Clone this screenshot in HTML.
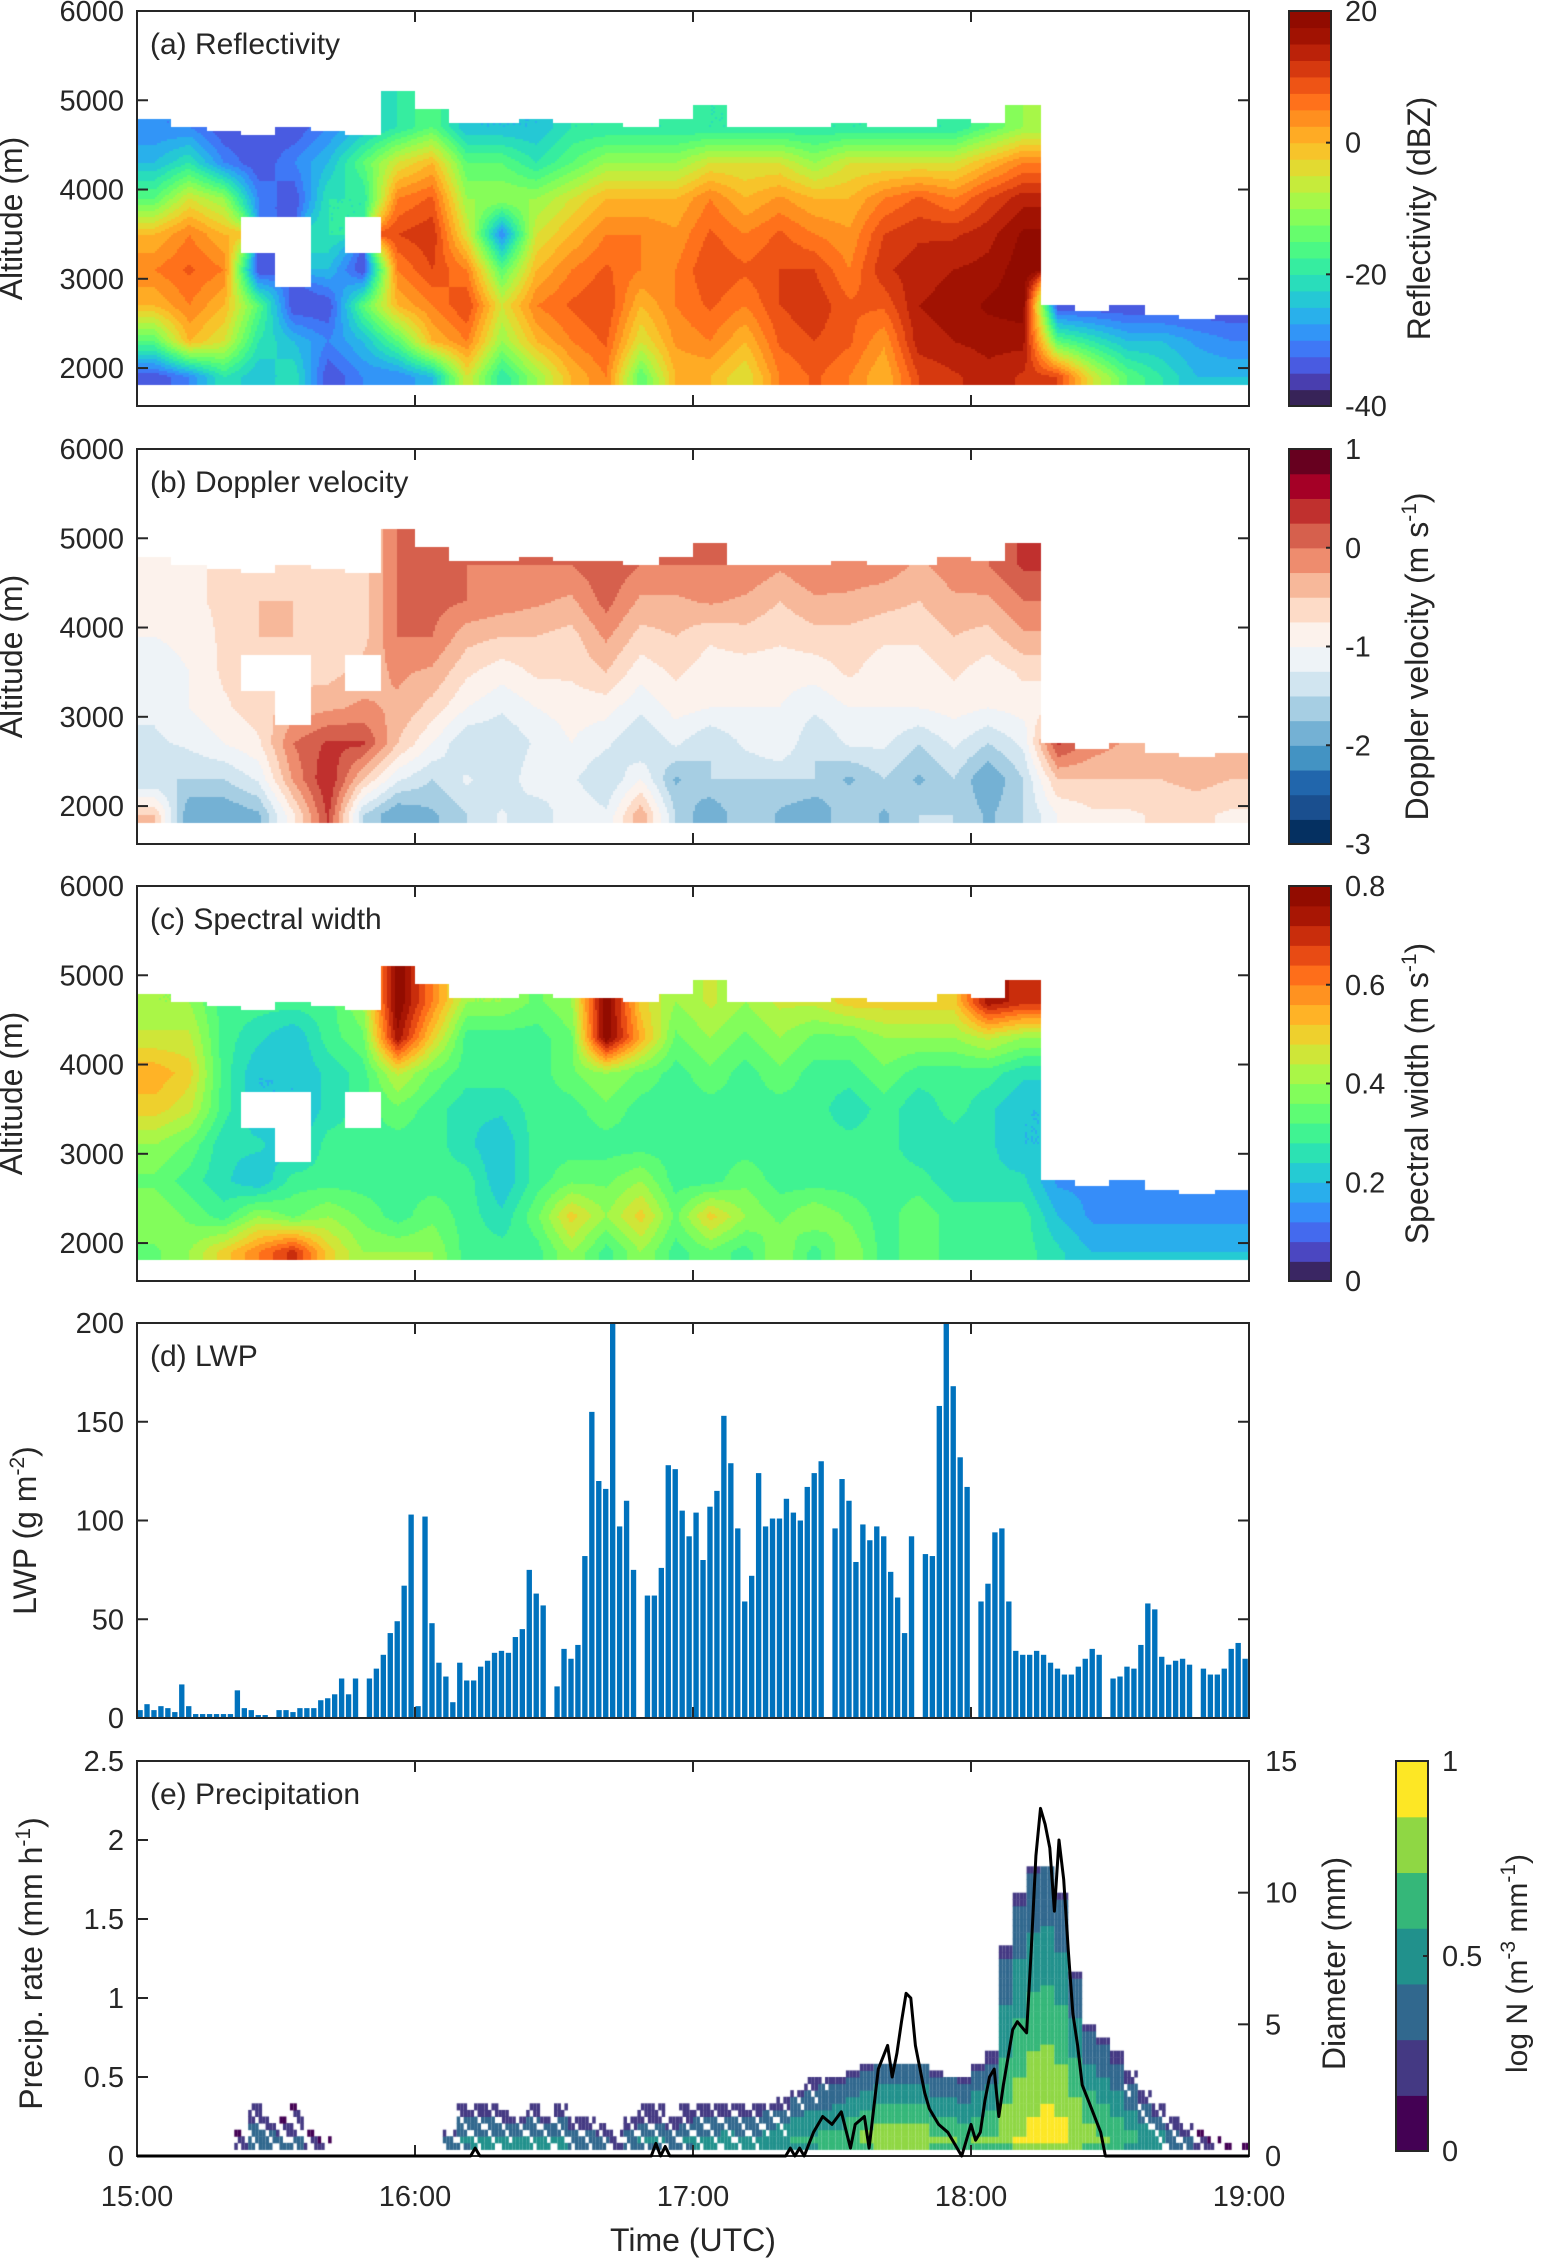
<!DOCTYPE html>
<html><head><meta charset="utf-8">
<style>
html,body{margin:0;padding:0;background:#fff;}
#wrap{position:relative;width:1549px;height:2263px;overflow:hidden;}
canvas{position:absolute;left:0;top:0;}
svg{position:absolute;left:0;top:0;}
text{font-family:"Liberation Sans",Arial,sans-serif;fill:#262626;}
</style></head>
<body>
<div id="wrap">
<canvas id="cv" width="1549" height="2263"></canvas>
<svg id="sv" width="1549" height="2263" xmlns="http://www.w3.org/2000/svg"></svg>
</div>
<script>
// ---------- DATA ----------
const altRows = [1900,2300,2700,3100,3500,3900,4300,4700];
const cloudTops = [4800,4700,4650,4600,4700,4650,4600,5100,4900,4750,4750,4800,4750,4750,4700,4800,4950,4700,4700,4700,4750,4700,4700,4800,4750,4950,2700,2650,2700,2600,2550,2600];
const N = null;
const reflGrid = [
[-35,-15,0,5,0,-15,-25,-30],[-30,0,5,8,5,-5,-20,-30],[-20,-5,0,5,0,-10,-30,-35],[-25,-20,-15,-35,N,-30,-35,-35],
[-20,-25,-35,N,N,-35,-30,-35],[-35,-30,-35,-25,-20,-20,-25,-30],[-30,-25,-15,-35,N,-20,-15,-25],[-30,-15,0,5,10,5,-5,-20],
[-25,0,5,10,12,8,0,-15],[-5,5,10,5,-5,-10,-15,-25],[-20,-10,-5,-15,-30,-10,-15,-25],[-10,0,5,0,-5,-10,-20,-25],
[0,5,8,5,0,-5,-15,-20],[5,8,10,8,5,0,-10,-20],[-15,-5,0,5,5,0,-10,-20],[0,3,5,5,3,0,-10,-20],
[0,5,8,10,8,5,-5,-20],[-5,0,5,8,5,0,-5,-20],[5,8,10,10,8,3,-5,-20],[8,10,12,10,5,0,-10,-20],
[5,8,8,5,3,0,-5,-20],[0,3,8,12,10,5,-5,-20],[10,14,15,14,12,8,-5,-20],[12,15,16,15,12,5,-5,-20],
[14,16,18,16,14,10,0,-15],[12,16,19,19,18,14,5,-10],[10,-15,-35,N,N,N,N,N],[-5,-20,-35,N,N,N,N,N],
[-15,-25,-35,N,N,N,N,N],[-20,-25,-35,N,N,N,N,N],[-25,-28,-35,N,N,N,N,N],[-25,-30,-35,N,N,N,N,N]];
const velGrid = [
[-0.5,-1.5,-1.3,-1.2,-1.2,-1.0,-1.0,-0.9],[-2.0,-1.5,-1.2,-1.0,-1.0,-0.9,-0.8,-0.8],[-2.0,-1.5,-1.0,-0.8,-0.7,-0.7,-0.7,-0.7],[-1.8,-1.2,-0.8,-0.6,-0.6,-0.5,-0.5,-0.6],
[-0.8,-0.2,0,-0.4,-0.6,-0.5,-0.5,-0.6],[0.3,0.5,0.3,-0.3,-0.6,-0.6,-0.6,-0.6],[-1.5,-0.5,0.3,-0.2,-0.4,-0.6,-0.6,-0.6],[-2.0,-1.2,-0.5,-0.3,-0.2,0,0,0],
[-1.8,-1.5,-1.0,-0.6,-0.3,0,0.1,0.1],[-1.5,-1.2,-1.5,-1.0,-0.7,-0.4,0,0],[-1.2,-1.5,-1.5,-1.2,-0.9,-0.5,-0.1,0],[-1.5,-1.0,-1.2,-1.0,-0.7,-0.5,-0.2,0],
[-1.0,-1.2,-1.0,-0.9,-0.7,-0.6,-0.3,0],[-1.2,-1.5,-1.2,-0.9,-0.5,-0.2,0.1,0.2],[-0.3,-1.0,-1.5,-1.2,-0.9,-0.6,-0.3,0],[-1.5,-1.8,-1.2,-0.9,-0.7,-0.5,-0.3,0],
[-2.0,-1.5,-1.5,-1.0,-0.9,-0.7,-0.2,0],[-1.5,-1.5,-1.2,-1.0,-0.9,-0.6,-0.3,0],[-1.8,-1.5,-1.0,-1.0,-0.9,-0.7,-0.5,-0.2],[-2.0,-1.5,-1.5,-1.2,-0.9,-0.6,-0.3,0],
[-1.5,-1.8,-1.2,-1.0,-0.7,-0.6,-0.3,-0.1],[-1.8,-1.5,-1.2,-1.0,-0.9,-0.7,-0.4,-0.1],[-1.5,-1.8,-1.5,-1.0,-0.9,-0.7,-0.5,-0.3],[-1.5,-1.5,-1.2,-0.9,-0.7,-0.5,-0.3,-0.1],
[-1.8,-2.0,-1.5,-1.0,-0.9,-0.6,-0.3,0],[-1.5,-1.5,-1.2,-0.9,-0.7,-0.3,0,0.3],[-1.0,-0.5,0.3,N,N,N,N,N],[-0.8,-0.5,-0.1,N,N,N,N,N],
[-0.8,-0.5,-0.3,N,N,N,N,N],[-0.7,-0.5,-0.3,N,N,N,N,N],[-0.7,-0.4,-0.3,N,N,N,N,N],[-0.8,-0.5,-0.3,N,N,N,N,N]];
const swGrid = [
[0.35,0.4,0.35,0.4,0.5,0.55,0.45,0.4],[0.4,0.35,0.3,0.35,0.45,0.5,0.45,0.4],[0.5,0.3,0.25,0.25,0.3,0.3,0.3,0.3],[0.6,0.4,0.2,0.25,0.2,0.2,0.25,0.3],
[0.7,0.35,0.3,0.2,0.2,0.2,0.2,0.3],[0.5,0.4,0.3,0.3,0.25,0.25,0.3,0.3],[0.4,0.35,0.3,0.3,0.3,0.3,0.35,0.4],[0.4,0.3,0.3,0.3,0.35,0.45,0.75,0.8],
[0.4,0.35,0.3,0.3,0.3,0.35,0.5,0.6],[0.3,0.3,0.3,0.25,0.25,0.3,0.3,0.4],[0.3,0.25,0.2,0.2,0.25,0.3,0.3,0.4],[0.3,0.35,0.3,0.3,0.3,0.3,0.3,0.35],
[0.4,0.5,0.35,0.3,0.3,0.35,0.35,0.4],[0.3,0.4,0.35,0.3,0.35,0.4,0.8,0.8],[0.4,0.5,0.4,0.3,0.3,0.35,0.55,0.5],[0.3,0.35,0.3,0.3,0.3,0.3,0.35,0.4],
[0.35,0.5,0.3,0.3,0.3,0.35,0.4,0.45],[0.3,0.4,0.35,0.3,0.3,0.3,0.35,0.4],[0.4,0.35,0.3,0.3,0.3,0.35,0.4,0.45],[0.3,0.4,0.3,0.3,0.3,0.3,0.35,0.45],
[0.4,0.35,0.3,0.3,0.25,0.3,0.35,0.5],[0.3,0.3,0.3,0.3,0.3,0.35,0.4,0.5],[0.35,0.35,0.3,0.25,0.25,0.3,0.4,0.5],[0.3,0.3,0.25,0.25,0.3,0.3,0.4,0.5],
[0.3,0.3,0.25,0.25,0.25,0.3,0.45,0.75],[0.3,0.3,0.25,0.2,0.2,0.25,0.4,0.7],[0.25,0.2,0.15,N,N,N,N,N],[0.2,0.15,0.15,N,N,N,N,N],
[0.2,0.15,0.15,N,N,N,N,N],[0.2,0.15,0.15,N,N,N,N,N],[0.2,0.15,0.15,N,N,N,N,N],[0.2,0.15,0.15,N,N,N,N,N]];
const lwpValues = [4,7,4,6,5,3,17,6,2,2,2,2,2,2,14,5,4,1.5,1.5,0,4,4,3,5,5,5,9,10,12,20,12,20,0,20,25,32,43,49,67,103,
6,102,48,28,21,8,28,19,19,26,29,33,34,33,41,45,75,63,57,0,16,35,30,37,82,155,120,116,200,97,110,75,0,62,62,76,128,126,105,92,
104,80,107,115,153,129,96,59,72,124,97,101,101,111,104,100,117,124,130,0,96,121,110,79,98,90,97,92,74,61,43,92,0,83,82,158,200,168,132,117,
0,59,68,94,96,59,34,32,32,34,32,28,25,22,22,26,30,35,32,0,20,21,26,25,37,58,55,31,27,29,30,27,0,25,22,22,25,35,38,30];
const dsdMaxD = [0,0,0,0,0,0,0,0.8,1.8,1.5,1.3,1.8,0.8,0.6,0,0,0,0,0,0,0,0,1.0,2.0,1.8,1.8,1.6,1.5,1.8,1.5,1.8,1.3,1.5,1.2,1.0,1.5,1.8,1.8,1.5,1.8,
1.8,1.8,2.0,1.8,1.8,2.0,2.2,2.5,2.8,3.0,3.0,3.2,3.5,3.5,3.5,3.5,3.5,3.2,3.0,2.8,3.5,3.8,8,10,11,11,10,7,5,4.5,4.0,3.2,2.5,2.0,1.5,1.2,0.8,0.6,0.4,0.3];
const dsdIntensity = [0,0,0,0,0,0,0,0.4,0.5,0.45,0.4,0.4,0.3,0.3,0,0,0,0,0,0,0,0,0.45,0.55,0.6,0.6,0.6,0.65,0.6,0.6,0.6,0.55,0.5,0.45,0.4,0.5,0.55,0.55,0.5,0.55,
0.6,0.6,0.6,0.6,0.6,0.65,0.65,0.7,0.7,0.72,0.75,0.8,0.85,0.9,0.9,0.92,0.9,0.85,0.85,0.8,0.8,0.82,0.85,0.9,0.95,0.97,0.95,0.9,0.85,0.8,0.75,0.7,0.65,0.6,0.5,0.45,0.4,0.35,0.3,0.3];
const rainTimes = [0,72,73,74,111,112,113,114,115,140,141,142,143,144,146,148,150,152,154,155,157,158,159,160,162,163,164,165,166,167,168,170,171,173,175,177,178,179,180,181,182,183,184,185,186,187,189,190,192,193,194,195,196,197,198,199,200,201,202,203,204,206,208,209,240];
const rainRates = [0,0,0.05,0,0,0.08,0,0.06,0,0,0.05,0,0.05,0,0.15,0.25,0.2,0.28,0.05,0.2,0.25,0.05,0.3,0.55,0.7,0.5,0.65,0.85,1.03,1.0,0.7,0.4,0.3,0.2,0.15,0.05,0,0.1,0.2,0.1,0.15,0.35,0.5,0.55,0.25,0.45,0.8,0.85,0.78,1.3,1.9,2.2,2.1,1.95,1.55,2.0,1.75,1.3,0.9,0.7,0.45,0.3,0.15,0,0];
const timeTicks = ["15:00","16:00","17:00","18:00","19:00"];
const altTicks = [2000,3000,4000,5000,6000];
const lwpTicks = [0,50,100,150,200];
const rateTicks = [0,0.5,1,1.5,2,2.5];
const diamTicks = [0,5,10,15];

// ---------- GEOMETRY ----------
const L=137, R=1249, W=R-L, H=395;
const tops=[11,449,886,1323,1761];
const ALT_MIN=1575, ALT_MAX=6000;
const xT = m => L + m/240*W;
const svg=document.getElementById('sv');
const NS='http://www.w3.org/2000/svg';
function mk(tag,attrs,parent){const e=document.createElementNS(NS,tag);for(const k in attrs)e.setAttribute(k,attrs[k]);(parent||svg).appendChild(e);return e;}
const ctx=document.getElementById('cv').getContext('2d');

function turbo(t){t=Math.max(0,Math.min(1,t));
 const r=0.13572138+t*(4.61539260+t*(-42.66032258+t*(132.13108234+t*(-152.94239396+t*59.28637943))));
 const g=0.09140261+t*(2.19418839+t*(4.84296658+t*(-14.18503333+t*(4.27729857+t*2.82956604))));
 const b=0.10667330+t*(12.64194608+t*(-60.58204836+t*(110.36276771+t*(-89.90310912+t*27.34824973))));
 return [r,g,b].map(v=>Math.round(255*Math.max(0,Math.min(1,v))));}
function turboD(t,n){const k=Math.min(n-1,Math.max(0,Math.floor(t*n)));return turbo((k+0.5)/n);}
const rdbu=["#053061","#1a4f8f","#2166ac","#4393c3","#74b1d4","#a6cee3","#d1e5f0","#eef3f7","#fcf2ec","#fddbc7","#f7b89a","#ee8c6e","#d6604d","#c0302e","#a50026","#67001f"];
function hex(h){return [parseInt(h.substr(1,2),16),parseInt(h.substr(3,2),16),parseInt(h.substr(5,2),16)];}
const viridis=["#440154","#443983","#31688e","#21918c","#35b779","#8fd744","#fde725"];

function drawRadar(grid,panel,vmin,vmax,cmap){
 const top=tops[panel];const img=ctx.createImageData(W,H);const bs=2;
 for(let py=0;py<H;py+=bs){const z=ALT_MAX-(py+1)/H*(ALT_MAX-ALT_MIN);
  for(let px=0;px<W;px+=bs){const t=(px+1)/W*240;const fc=t/7.5-0.5;
   const nc=Math.max(0,Math.min(31,Math.round(fc)));
   if(z>cloudTops[nc]||z<1800)continue;
   const fr=(z-1900)/400;const nr=Math.max(0,Math.min(7,Math.round(fr)));
   if(reflGrid[nc][nr]===null)continue;
   const c0=Math.max(0,Math.min(31,Math.floor(fc))),c1=Math.min(31,c0+1),r0=Math.max(0,Math.min(7,Math.floor(fr))),r1=Math.min(7,r0+1);
   const ax=Math.max(0,Math.min(1,fc-c0)),ay=Math.max(0,Math.min(1,fr-r0));
   let s=0,w=0;
   [[c0,r0,(1-ax)*(1-ay)],[c1,r0,ax*(1-ay)],[c0,r1,(1-ax)*ay],[c1,r1,ax*ay]].forEach(([c,r,ww])=>{const v=grid[c][r];if(v!==null&&ww>0){s+=v*ww;w+=ww;}});
   if(w===0)continue;const col=cmap(((s/w)-vmin)/(vmax-vmin));
   for(let dy=0;dy<bs;dy++)for(let dx=0;dx<bs;dx++){const i=((py+dy)*W+px+dx)*4;img.data[i]=col[0];img.data[i+1]=col[1];img.data[i+2]=col[2];img.data[i+3]=255;}
  }}
 ctx.putImageData(img,L,top);
}
drawRadar(reflGrid,0,-40,20,t=>turboD(t,24));
drawRadar(velGrid,1,-3,1,t=>hex(rdbu[Math.min(15,Math.max(0,Math.floor(t*16)))]));
drawRadar(swGrid,2,0,0.8,t=>turboD(t,20));

function box(panel,name){const top=tops[panel];
 mk('rect',{x:L,y:top,width:W,height:H,fill:'none',stroke:'#262626','stroke-width':2,});
 timeTicks.forEach((s,i)=>{if(i===0||i===4)return;const x=xT(i*60);
  let e=mk('line',{x1:x,y1:top,x2:x,y2:top+11,stroke:'#262626','stroke-width':2});
  
  e=mk('line',{x1:x,y1:top+H,x2:x,y2:top+H-11,stroke:'#262626','stroke-width':2});
  });
}
function yTicks(panel,vals,vmin,vmax,name,fmt,side){const top=tops[panel];
 vals.forEach(v=>{const y=top+H-(v-vmin)/(vmax-vmin)*H;
  let e=mk('line',{x1:L,y1:y,x2:L+11,y2:y,stroke:'#262626','stroke-width':2});
  
  if(side!=='right'){e=mk('line',{x1:R,y1:y,x2:R-11,y2:y,stroke:'#262626','stroke-width':2});
  }
  const t=mk('text',{x:L-13,y:y+10,'font-size':29,'text-anchor':'end'});t.textContent=fmt?fmt(v):v;
  });
}
function label(panel,txt,name){const t=mk('text',{x:150,y:tops[panel]+43,'font-size':30});t.textContent=txt;
 }
function ytitle(cx,cy,html,name,size){const t=mk('text',{x:0,y:0,'font-size':size||32,'text-anchor':'middle',transform:`translate(${cx},${cy}) rotate(-90)`});t.innerHTML=html;
 }
function colorbar(x0,x1,top,bot,colors,ticks,vmin,vmax,name,fmt){
 const n=colors.length;const h=(bot-top)/n;
 colors.forEach((c,i)=>{const e=mk('rect',{x:x0,y:bot-(i+1)*h,width:x1-x0,height:h+0.6,fill:c});
  });
 mk('rect',{x:x0,y:top,width:x1-x0,height:bot-top,fill:'none',stroke:'#262626','stroke-width':2,});
 ticks.forEach(v=>{const y=bot-(v-vmin)/(vmax-vmin)*(bot-top);
  let e=mk('line',{x1:x1,y1:y,x2:x1-5,y2:y,stroke:'#262626','stroke-width':2});
  
  const t=mk('text',{x:x1+14,y:y+10,'font-size':29});t.textContent=fmt?fmt(v):v;
  });
}
const rgb=a=>`rgb(${a[0]},${a[1]},${a[2]})`;

const names=['reflectivity','doppler','spectral'];
for(let p=0;p<3;p++){box(p,names[p]);yTicks(p,altTicks,ALT_MIN,ALT_MAX,names[p]);
 ytitle(22,tops[p]+H/2+10,'Altitude (m)',names[p]+'-y-axis-title');}
label(0,'(a) Reflectivity','panel-a-label');
label(1,'(b) Doppler velocity','panel-b-label');
label(2,'(c) Spectral width','panel-c-label');
colorbar(1289,1331,tops[0],tops[0]+H,Array.from({length:24},(_,i)=>rgb(turbo((i+0.5)/24))),[-40,-20,0,20],-40,20,'reflectivity-colorbar');
colorbar(1289,1331,tops[1],tops[1]+H,rdbu,[-3,-2,-1,0,1],-3,1,'doppler-colorbar');
colorbar(1289,1331,tops[2],tops[2]+H,Array.from({length:20},(_,i)=>rgb(turbo((i+0.5)/20))),[0,0.2,0.4,0.6,0.8],0,0.8,'spectral-colorbar');
ytitle(1430,tops[0]+H/2+10,'Reflectivity (dBZ)','reflectivity-colorbar-title');
ytitle(1428,tops[1]+H/2+10,'Doppler velocity (m s<tspan dy="-12" font-size="21">-1</tspan><tspan dy="12">)</tspan>','doppler-colorbar-title');
ytitle(1428,tops[2]+H/2+10,'Spectral width (m s<tspan dy="-12" font-size="21">-1</tspan><tspan dy="12">)</tspan>','spectral-colorbar-title');

(function(){const top=tops[3];const step=W/160;
 lwpValues.forEach((v,i)=>{const h=v/200*H;if(h<=0)return;
  const e=mk('rect',{x:L+i*step+0.4,y:top+H-h,width:step-1.6,height:h,fill:'#0072bd'});
  });
 box(3,'lwp');yTicks(3,lwpTicks,0,200,'lwp');label(3,'(d) LWP','panel-d-label');
 ytitle(36,top+H/2+10,'LWP (g m<tspan dy="-12" font-size="21">-2</tspan><tspan dy="12">)</tspan>','lwp-y-axis-title');
})();

(function(){const top=tops[4];const bot=top+H;const colW=W/80;const yD=d=>bot-d/15*H;
 dsdMaxD.forEach((md,c)=>{if(md<=0)return;const I=dsdIntensity[c];
  for(let d=0.25;d<md;d+=0.25){const frac=d/md;let v=I*(1-0.72*frac);if(d<0.5)v*=0.85;
   const k=Math.max(0,Math.min(6,Math.floor(v*7)));
   ctx.fillStyle=viridis[k];
   // sparse look: thin strips, density grows with intensity
   const strips=4;for(let s=0;s<strips;s++){if(((c*3+s+Math.round(d*4))%4)/4 > I+0.15*(1-frac))continue;
    ctx.fillRect(L+c*colW+s*colW/strips,yD(d+0.25),colW/strips,yD(d)-yD(d+0.25)+0.5);}}
 });
 box(4,'precip');
 rateTicks.forEach(v=>{const y=bot-v/2.5*H;
  let e=mk('line',{x1:L,y1:y,x2:L+11,y2:y,stroke:'#262626','stroke-width':2});
  
  const t=mk('text',{x:L-13,y:y+10,'font-size':29,'text-anchor':'end'});t.textContent=v;
  });
 diamTicks.forEach(v=>{const y=yD(v);
  let e=mk('line',{x1:R,y1:y,x2:R-11,y2:y,stroke:'#262626','stroke-width':2});
  
  const t=mk('text',{x:R+16,y:y+10,'font-size':29});t.textContent=v;
  });
 const pts=rainTimes.map((t,i)=>`${xT(t).toFixed(1)},${(bot-rainRates[i]/2.5*H).toFixed(1)}`).join(' ');
 mk('polyline',{points:pts,fill:'none',stroke:'#000','stroke-width':3,'stroke-linejoin':'round',});
 label(4,'(e) Precipitation','panel-e-label');
 ytitle(42,top+H/2+5,'Precip. rate (mm h<tspan dy="-12" font-size="21">-1</tspan><tspan dy="12">)</tspan>','precip-y-axis-title');
 ytitle(1345,top+H/2+5,'Diameter (mm)','diameter-axis-title');
 colorbar(1396,1428,top,2151,viridis,[0,0.5,1],0,1,'logn-colorbar');
 ytitle(1527,top+H/2+5,'log N (m<tspan dy="-12" font-size="21">-3</tspan><tspan dy="12"> mm</tspan><tspan dy="-12" font-size="21">-1</tspan><tspan dy="12">)</tspan>','logn-colorbar-title',30);
 timeTicks.forEach((s,i)=>{const t=mk('text',{x:xT(i*60),y:2206,'font-size':29,'text-anchor':'middle'});t.textContent=s;
  });
 const tt=mk('text',{x:xT(120),y:2251,'font-size':32,'text-anchor':'middle'});tt.textContent='Time (UTC)';
 
})();
</script>
</body></html>
